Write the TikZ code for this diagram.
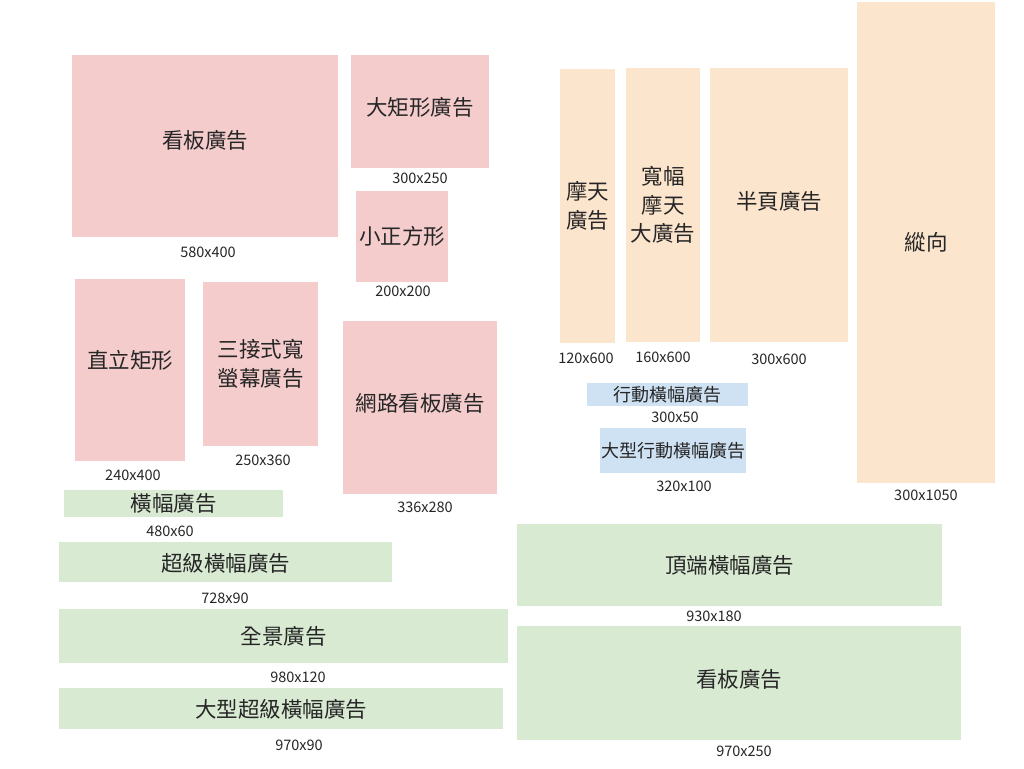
\documentclass[tikz,border=0pt]{standalone}
\usepackage{fontspec}
\setmainfont{Noto Sans CJK TC}
\usepackage{xcolor}
\definecolor{pinkad}{HTML}{F4CCCC}
\definecolor{orangead}{HTML}{FCE5CD}
\definecolor{greenad}{HTML}{D9EAD3}
\definecolor{bluead}{HTML}{CFE2F3}
\usepackage{tikz}
\usetikzlibrary{positioning}

\begin{document}
\begin{tikzpicture}[x=1pt, y=-1pt,
    ad/.style={inner sep=0pt, align=center, text=black!85,
      font=\fontsize{21.5}{28.5}\selectfont},
    lift/.style={text height=18pt, text depth=#1},
    pink/.style={ad, fill=pinkad},
    orange/.style={ad, fill=orangead},
    green/.style={ad, fill=greenad},
    blue/.style={ad, fill=bluead, font=\fontsize{18}{22}\selectfont},
    size/.style={inner sep=0pt, text=black!85, font=\fontsize{14.5}{16}\selectfont}] % Ad sizes

      \useasboundingbox (0, 0) rectangle (1024, 768);

      % pink
      \node [pink, lift=13pt, minimum width=266pt, minimum height=182pt] (bill) at (205, 146) {看板廣告};
      \node [pink, lift=11pt, minimum width=138pt, minimum height=113pt] (bigrect) at (420, 111.5) {大矩形廣告};
      \node [pink, minimum width=92pt, minimum height=91pt] (square) at (402, 236.5) {小正方形};
      \node [pink, lift=21pt, minimum width=110pt, minimum height=182pt] (upright) at (130, 370) {直立矩形};
      \node [pink, minimum width=115pt, minimum height=164pt] (triple) at (260.5, 364) {三接式寬\\螢幕廣告};
      \node [pink, lift=11pt, minimum width=154pt, minimum height=173pt] (netbill) at (420, 407.5) {網路看板廣告};

      % orange
      \node [orange, minimum width=55pt, minimum height=274pt] (sky) at (587.5, 206) {摩天\\廣告};
      \node [orange, minimum width=74pt, minimum height=274pt] (widesky) at (663, 205) {寬幅\\摩天\\大廣告};
      \node [orange, lift=9pt, minimum width=138pt, minimum height=274pt] (half) at (779, 205) {半頁廣告};
      \node [orange, minimum width=138pt, minimum height=481pt] (portrait) at (926, 242.5) {縱向};

      % blue
      \node [blue, minimum width=161pt, minimum height=23pt] (mobile) at (667.5, 394.5) {行動橫幅廣告};
      \node [blue, minimum width=146pt, minimum height=45pt] (bigmobile) at (673, 450.5) {大型行動橫幅廣告};

      % green
      \node [green, minimum width=219pt, minimum height=27pt] (banner) at (173.5, 503.5) {橫幅廣告};
      \node [green, lift=-9pt, minimum width=333pt, minimum height=40pt] (leader) at (225.5, 562) {超級橫幅廣告};
      \node [green, minimum width=449pt, minimum height=54pt] (pano) at (283.5, 636) {全景廣告};
      \node [green, lift=-9pt, minimum width=444pt, minimum height=41pt] (bigleader) at (281, 708.5) {大型超級橫幅廣告};
      \node [green, minimum width=425pt, minimum height=82pt] (top) at (729.5, 565) {頂端橫幅廣告};
      \node [green, lift=9pt, minimum width=444pt, minimum height=114pt] (bill2) at (739, 683) {看板廣告};

      % sizes
      \node [size] (billsz) at (208, 252) {580x400};
      \node [size] (bigrectsz) at (420, 178) {300x250};
      \node [size] (squaresz) at (403, 291) {200x200};
      \node [size] (uprightsz) at (133, 475) {240x400};
      \node [size] (triplesz) at (263, 460) {250x360};
      \node [size] (netbillsz) at (425, 507) {336x280};
      \node [size] (skysz) at (586, 358) {120x600};
      \node [size] (wideskysz) at (663, 357) {160x600};
      \node [size] (halfsz) at (779, 359) {300x600};
      \node [size] (portraitsz) at (926, 495) {300x1050};
      \node [size] (mobilesz) at (675, 417) {300x50};
      \node [size] (bigmobilesz) at (684, 486) {320x100};
      \node [size] (bannersz) at (170, 531) {480x60};
      \node [size] (leadersz) at (225, 598) {728x90};
      \node [size] (panosz) at (298, 677) {980x120};
      \node [size] (bigleadersz) at (299, 745) {970x90};
      \node [size] (topsz) at (714, 616) {930x180};
      \node [size] (bill2sz) at (744, 751) {970x250};

    \end{tikzpicture}
\end{document}
